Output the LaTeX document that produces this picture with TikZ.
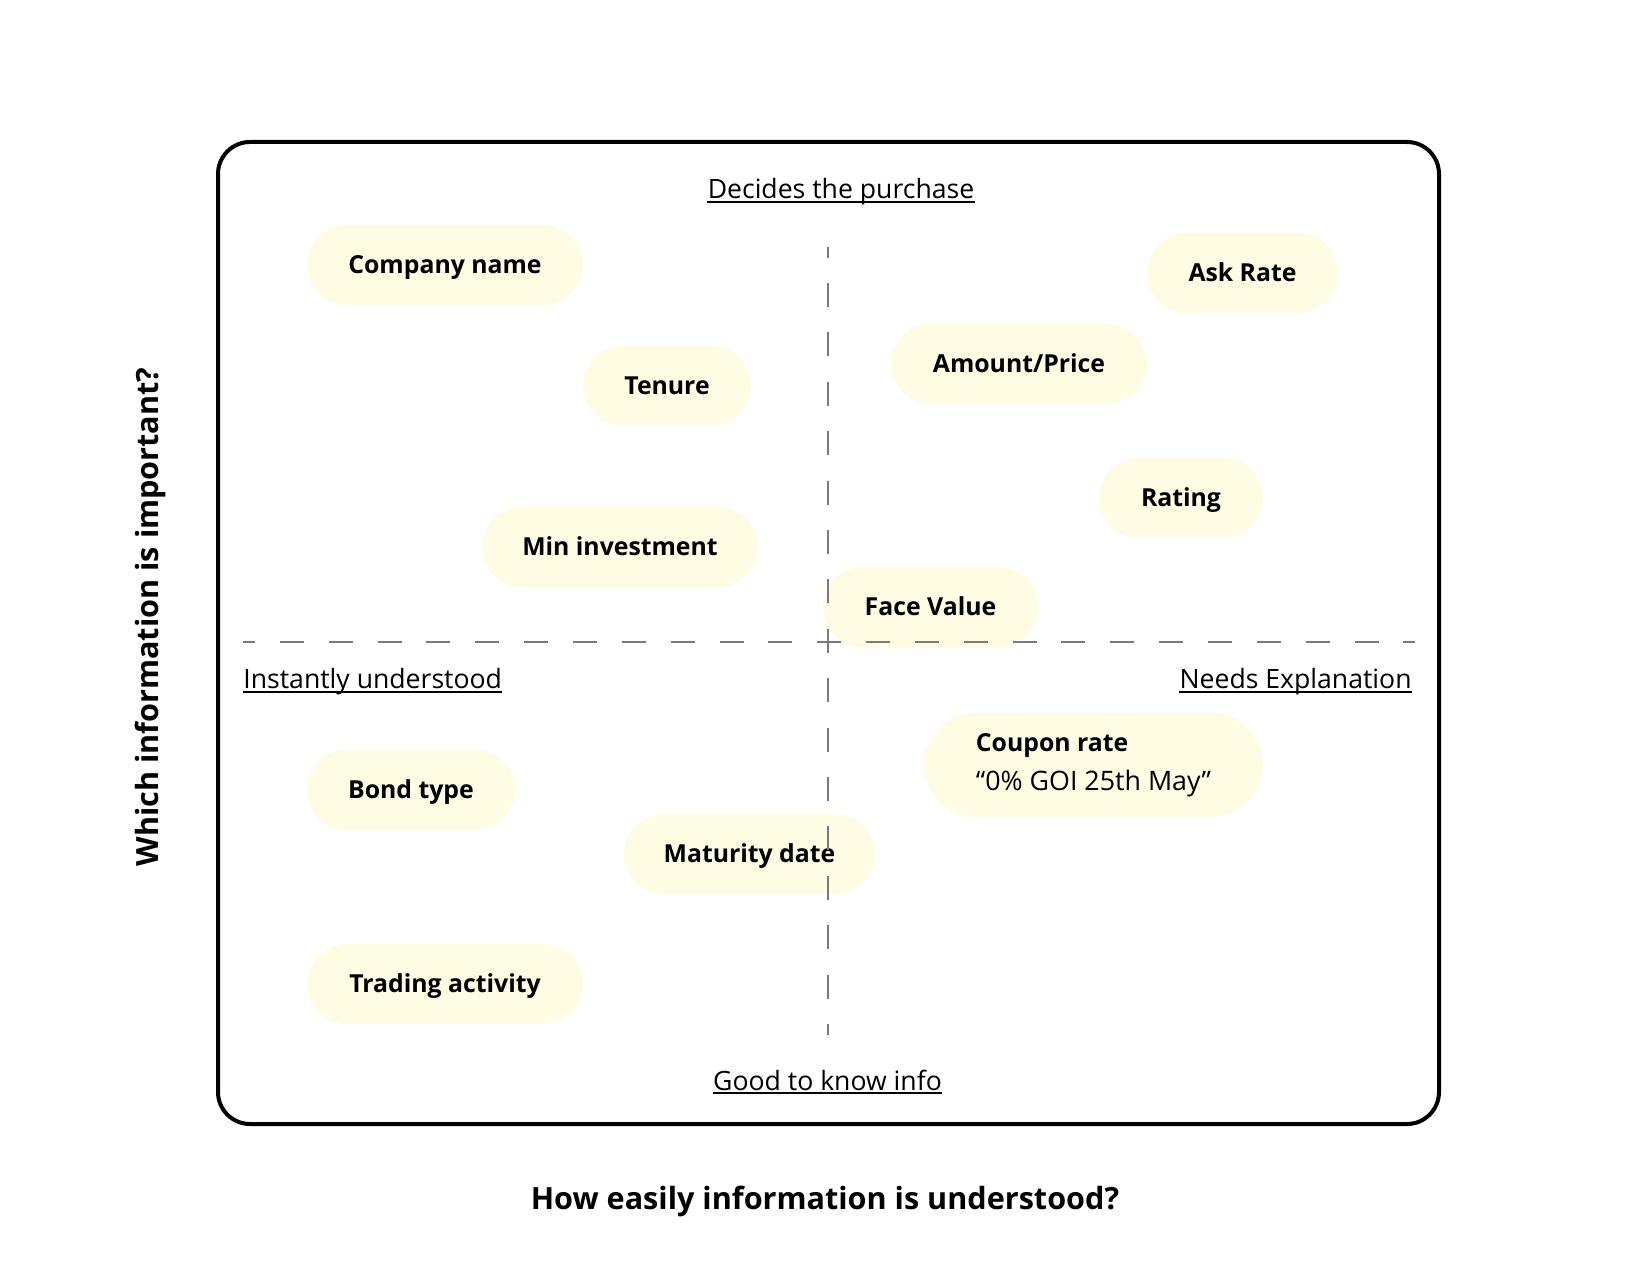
\documentclass[tikz,border=0pt]{standalone}
\usepackage{fontspec}
\setmainfont{Open Sans}
\usetikzlibrary{shapes.misc}
\definecolor{pill}{HTML}{FEFCE2}
\definecolor{dashgray}{HTML}{7A7A7A}
\begin{document}
\begin{tikzpicture}[x=0.5pt,y=-0.5pt,
  pillbase/.style={shape=rounded rectangle, fill=pill, draw=none, minimum height=40pt,
    inner sep=0pt, font=\fontsize{12.4}{15}\selectfont\bfseries},
  pillbox/.style={pillbase, text height=8.85pt, text depth=0pt},
  axislbl/.style={inner sep=0pt, anchor=base, font=\fontsize{13.3}{16}\selectfont},
  quadline/.style={draw=dashgray, line width=1pt},
  ulined/.style={line width=0.75pt},
  titlelbl/.style={font=\fontsize{15.3}{18}\selectfont\bfseries, inner sep=0pt, anchor=base}]
\useasboundingbox (0,0) rectangle (1628,1288);
\fill[white] (0,0) rectangle (1628,1288);
\draw[line width=2pt, rounded corners=16pt] (218,142) rectangle (1439,1124);

% pills
\node[pillbox, minimum width=138pt] (company) at (445,265) {Company name};
\node[pillbox, minimum width=84pt] (tenure) at (667,386) {Tenure};
\node[pillbox, minimum width=138pt] (mininv) at (620,547) {Min investment};
\node[pillbox, minimum width=95.5pt] (askrate) at (1242.5,273) {Ask Rate};
\node[pillbox, minimum width=128pt] (amount) at (1019,364) {Amount/Price};
\node[pillbox, minimum width=82pt] (rating) at (1181,498) {Rating};
\node[pillbox, minimum width=107.5pt] (face) at (930.5,607) {Face Value};
\node[pillbase, minimum width=169.5pt, minimum height=52pt, align=left,
  font=\fontsize{12.4}{19.5}\selectfont\bfseries] (coupon) at (1093.5,765)
  {Coupon rate\\{\fontsize{13.4}{19.5}\selectfont\mdseries “0\% GOI 25th May”}};
\node[pillbox, minimum width=104pt] (bond) at (411,790) {Bond type};
\node[pillbox, minimum width=125.5pt] (maturity) at (749.5,854) {Maturity date};
\node[pillbox, minimum width=138pt] (trading) at (445,984) {Trading activity};

% quadrant lines
\coordinate (vtop) at (828,247);
\coordinate (vbot) at (828,1035);
\coordinate (hl) at (243,642);
\coordinate (hr) at (1415,642);
\draw[quadline, dash pattern=on 12pt off 12.7pt, dash phase=6.7pt] (vtop) -- (vbot);
\draw[quadline, dash pattern=on 12pt off 12.425pt, dash phase=6pt] (hl) -- (hr);

% quadrant labels
\node[axislbl] (decides) at (841,199) {Decides the purchase};
\node[axislbl, anchor=base west] (instantly) at (243,689) {Instantly understood};
\node[axislbl, anchor=base east] (needs) at (1412,689) {Needs Explanation};
\node[axislbl] (goodto) at (827.5,1090) {Good to know info};
\foreach \n in {decides,instantly,needs,goodto}
  \draw[ulined] ([yshift=-1.5pt]\n.base west) -- ([yshift=-1.5pt]\n.base east);

% axis titles
\node[titlelbl] (xtitle) at (825,1209) {How easily information is understood?};
\node[titlelbl, rotate=90] (ytitle) at (158,617) {Which information is important?};
\end{tikzpicture}
\end{document}
